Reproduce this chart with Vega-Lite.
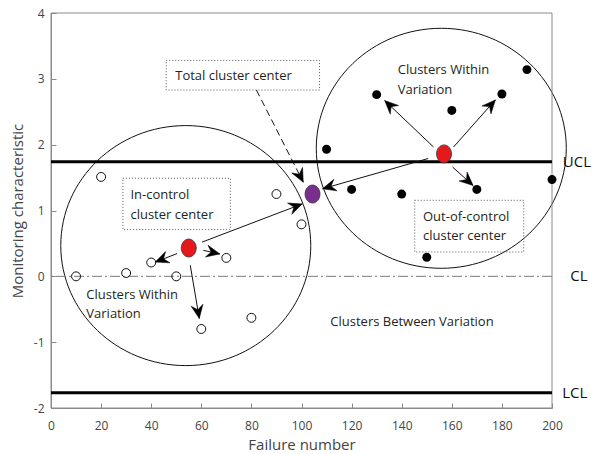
{
  "$schema": "https://vega.github.io/schema/vega-lite/v6.json",
  "width": 501,
  "height": 395,
  "autosize": {"type": "none"},
  "padding": {"left": 51, "top": 13, "right": 40, "bottom": 46},
  "config": {
    "view": {"stroke": null},
    "font": "Open Sans",
    "axis": {
      "domainColor": "#8a8a8a",
      "tickColor": "#8a8a8a",
      "tickSize": -5,
      "grid": false,
      "labelFlush": false,
      "labelColor": "#444444",
      "titleColor": "#444444",
      "labelFontSize": 12,
      "titleFontSize": 15,
      "titleFontWeight": "normal",
      "labelFont": "Open Sans",
      "titleFont": "Open Sans"
    }
  },
  "datasets": {
    "range": [
      {"x": 0, "x2": 200, "y": -2, "y2": 4}
    ],
    "clusters": [
      {"name": "in-control", "x": 53.8, "y": 0.467},
      {"name": "out-of-control", "x": 155.8, "y": 1.945}
    ],
    "limits": [
      {"label": "UCL", "y": 1.74, "kind": "limit", "lx": 204.3},
      {"label": "CL", "y": 0, "kind": "center", "lx": 207.3},
      {"label": "LCL", "y": -1.77, "kind": "limit", "lx": 204.1}
    ],
    "boxes": [
      {"name": "total", "x": 46, "x2": 107.2, "y": 3.28, "y2": 2.83},
      {"name": "in", "x": 28.7, "x2": 71.6, "y": 1.49, "y2": 0.71},
      {"name": "out", "x": 145.2, "x2": 188.7, "y": 1.155, "y2": 0.37}
    ],
    "arrows": [
      {"x": 50.3, "y": 0.345, "x2": 41.6, "y2": 0.217, "style": "solid"},
      {"x": 60.8, "y": 0.395, "x2": 67.4, "y2": 0.34, "style": "solid"},
      {"x": 55.6, "y": 0.167, "x2": 59.2, "y2": -0.64, "style": "solid"},
      {"x": 60.3, "y": 0.52, "x2": 100.3, "y2": 1.1, "style": "solid"},
      {"x": 150.6, "y": 1.79, "x2": 108.4, "y2": 1.33, "style": "solid"},
      {"x": 152.7, "y": 1.965, "x2": 133.2, "y2": 2.67, "style": "solid"},
      {"x": 160.7, "y": 1.965, "x2": 177.4, "y2": 2.68, "style": "solid"},
      {"x": 160.3, "y": 1.66, "x2": 168.5, "y2": 1.38, "style": "solid"},
      {"x": 82, "y": 2.83, "x2": 100.7, "y2": 1.43, "style": "dashed"}
    ],
    "points": [
      {"x": 10, "y": 0, "group": "in"},
      {"x": 20, "y": 1.51, "group": "in"},
      {"x": 30, "y": 0.05, "group": "in"},
      {"x": 40, "y": 0.21, "group": "in"},
      {"x": 50, "y": 0, "group": "in"},
      {"x": 60, "y": -0.8, "group": "in"},
      {"x": 70, "y": 0.28, "group": "in"},
      {"x": 80, "y": -0.63, "group": "in"},
      {"x": 90, "y": 1.25, "group": "in"},
      {"x": 100, "y": 0.79, "group": "in"},
      {"x": 110, "y": 1.93, "group": "out"},
      {"x": 120, "y": 1.32, "group": "out"},
      {"x": 130, "y": 2.76, "group": "out"},
      {"x": 140, "y": 1.25, "group": "out"},
      {"x": 150, "y": 0.29, "group": "out"},
      {"x": 160, "y": 2.52, "group": "out"},
      {"x": 170, "y": 1.32, "group": "out"},
      {"x": 180, "y": 2.77, "group": "out"},
      {"x": 190, "y": 3.14, "group": "out"},
      {"x": 200, "y": 1.47, "group": "out"}
    ],
    "centers": [
      {"kind": "In-control", "x": 55, "y": 0.43},
      {"kind": "Out-of-control", "x": 156.9, "y": 1.86},
      {"kind": "Total", "x": 104.4, "y": 1.25}
    ],
    "notes": [
      {"text": "Total cluster center", "x": 49.6, "y": 3.045, "multi": "no"},
      {"text": "In-control\ncluster center", "x": 31.7, "y": 1.32, "multi": "yes"},
      {"text": "Out-of-control\ncluster center", "x": 148.5, "y": 1.0, "multi": "yes"},
      {"text": "Clusters Within\nVariation", "x": 138.4, "y": 3.22, "multi": "yes"},
      {"text": "Clusters Within\nVariation", "x": 14.1, "y": -0.187, "multi": "yes"},
      {"text": "Clusters Between Variation", "x": 111.5, "y": -0.69, "multi": "no"}
    ]
  },
  "layer": [
    {
      "data": {"name": "clusters"},
      "mark": {
        "type": "point",
        "shape": "M-1,0 A1,0.96 0 1,1 1,0 A1,0.96 0 1,1 -1,0 Z",
        "size": 62500,
        "filled": false,
        "stroke": "#111111",
        "strokeWidth": 1,
        "opacity": 1
      },
      "encoding": {
        "x": {
          "field": "x", "type": "quantitative",
          "scale": {"domain": [0, 200], "nice": false, "zero": false},
          "axis": {"orient": "bottom", "values": [0, 20, 40, 60, 80, 100, 120, 140, 160, 180, 200], "title": "Failure number", "labelPadding": 17, "titlePadding": 6}
        },
        "y": {
          "field": "y", "type": "quantitative",
          "scale": {"domain": [-2, 4], "nice": false, "zero": false},
          "axis": {"orient": "left", "values": [-2, -1, 0, 1, 2, 3, 4], "labelExpr": "datum.value < 0 ? '-' + format(-datum.value, 'd') : format(datum.value, 'd')", "title": "Monitoring characteristic", "labelPadding": 12, "titlePadding": 8}
        }
      }
    },
    {
      "data": {"name": "range"},
      "mark": {"type": "rect", "fill": "transparent", "stroke": "#8a8a8a", "strokeWidth": 1},
      "encoding": {
        "x": {"field": "x", "type": "quantitative"},
        "x2": {"field": "x2"},
        "y": {"field": "y", "type": "quantitative"},
        "y2": {"field": "y2"}
      }
    },
    {
      "data": {"name": "limits"},
      "transform": [{"filter": "datum.kind === 'limit'"}],
      "mark": {"type": "rule", "stroke": "#000000", "strokeWidth": 3},
      "encoding": {"y": {"field": "y", "type": "quantitative"}}
    },
    {
      "data": {"name": "limits"},
      "transform": [{"filter": "datum.kind === 'center'"}],
      "mark": {"type": "rule", "stroke": "#7a7a7a", "strokeWidth": 1, "strokeDash": [10, 3, 2, 3]},
      "encoding": {"y": {"field": "y", "type": "quantitative"}}
    },
    {
      "data": {"name": "boxes"},
      "mark": {"type": "rect", "fill": "transparent", "stroke": "#555555", "strokeWidth": 1, "strokeDash": [1, 2]},
      "encoding": {
        "x": {"field": "x", "type": "quantitative"},
        "x2": {"field": "x2"},
        "y": {"field": "y", "type": "quantitative"},
        "y2": {"field": "y2"}
      }
    },
    {
      "data": {"name": "arrows"},
      "transform": [{"filter": "datum.style === 'solid'"}],
      "mark": {"type": "rule", "stroke": "#111111", "strokeWidth": 1},
      "encoding": {
        "x": {"field": "x", "type": "quantitative"},
        "y": {"field": "y", "type": "quantitative"},
        "x2": {"field": "x2"},
        "y2": {"field": "y2"}
      }
    },
    {
      "data": {"name": "arrows"},
      "transform": [{"filter": "datum.style === 'dashed'"}],
      "mark": {"type": "rule", "stroke": "#111111", "strokeWidth": 1, "strokeDash": [7, 4]},
      "encoding": {
        "x": {"field": "x", "type": "quantitative"},
        "y": {"field": "y", "type": "quantitative"},
        "x2": {"field": "x2"},
        "y2": {"field": "y2"}
      }
    },
    {
      "data": {"name": "arrows"},
      "transform": [{"calculate": "atan2((datum.x2 - datum.x) * 2.505, (datum.y2 - datum.y) * 65.83) * 180 / PI", "as": "ang"}],
      "mark": {
        "type": "point",
        "shape": "M0,0 L0.85,1.9 L0,1.25 L-0.85,1.9 Z",
        "size": 200,
        "filled": true,
        "fill": "#000000",
        "stroke": "#000000",
        "strokeWidth": 0.5,
        "opacity": 1
      },
      "encoding": {
        "x": {"field": "x2", "type": "quantitative"},
        "y": {"field": "y2", "type": "quantitative"},
        "angle": {"field": "ang", "type": "quantitative", "scale": null}
      }
    },
    {
      "data": {"name": "points"},
      "transform": [{"filter": "datum.group === 'in'"}],
      "mark": {"type": "point", "shape": "circle", "size": 80, "filled": false, "stroke": "#111111", "strokeWidth": 1, "opacity": 1},
      "encoding": {
        "x": {"field": "x", "type": "quantitative"},
        "y": {"field": "y", "type": "quantitative"}
      }
    },
    {
      "data": {"name": "points"},
      "transform": [{"filter": "datum.group === 'out'"}],
      "mark": {"type": "point", "shape": "circle", "size": 80, "filled": true, "fill": "#000000", "opacity": 1},
      "encoding": {
        "x": {"field": "x", "type": "quantitative"},
        "y": {"field": "y", "type": "quantitative"}
      }
    },
    {
      "data": {"name": "centers"},
      "mark": {
        "type": "point",
        "shape": "M-0.83,0 A0.83,1 0 1,1 0.83,0 A0.83,1 0 1,1 -0.83,0 Z",
        "size": 324,
        "filled": true,
        "stroke": "#333333",
        "strokeWidth": 0.8,
        "opacity": 1
      },
      "encoding": {
        "x": {"field": "x", "type": "quantitative"},
        "y": {"field": "y", "type": "quantitative"},
        "color": {
          "field": "kind", "type": "nominal",
          "scale": {"domain": ["In-control", "Out-of-control", "Total"], "range": ["#e3191c", "#e3191c", "#7a2f8f"]},
          "legend": null
        }
      }
    },
    {
      "data": {"name": "notes"},
      "transform": [{"filter": "datum.multi === 'yes'"}],
      "mark": {"type": "text", "align": "left", "baseline": "top", "fontSize": 13, "lineHeight": 19.5, "lineBreak": "\n", "color": "#231f20", "font": "Open Sans"},
      "encoding": {
        "x": {"field": "x", "type": "quantitative"},
        "y": {"field": "y", "type": "quantitative"},
        "text": {"field": "text"}
      }
    },
    {
      "data": {"name": "notes"},
      "transform": [{"filter": "datum.multi === 'no'"}],
      "mark": {"type": "text", "align": "left", "baseline": "middle", "fontSize": 13, "color": "#231f20", "font": "Open Sans"},
      "encoding": {
        "x": {"field": "x", "type": "quantitative"},
        "y": {"field": "y", "type": "quantitative"},
        "text": {"field": "text"}
      }
    },
    {
      "data": {"name": "limits"},
      "mark": {"type": "text", "align": "left", "baseline": "middle", "fontSize": 15, "color": "#111111", "font": "Open Sans"},
      "encoding": {
        "x": {"field": "lx", "type": "quantitative"},
        "y": {"field": "y", "type": "quantitative"},
        "text": {"field": "label"}
      }
    }
  ]
}
